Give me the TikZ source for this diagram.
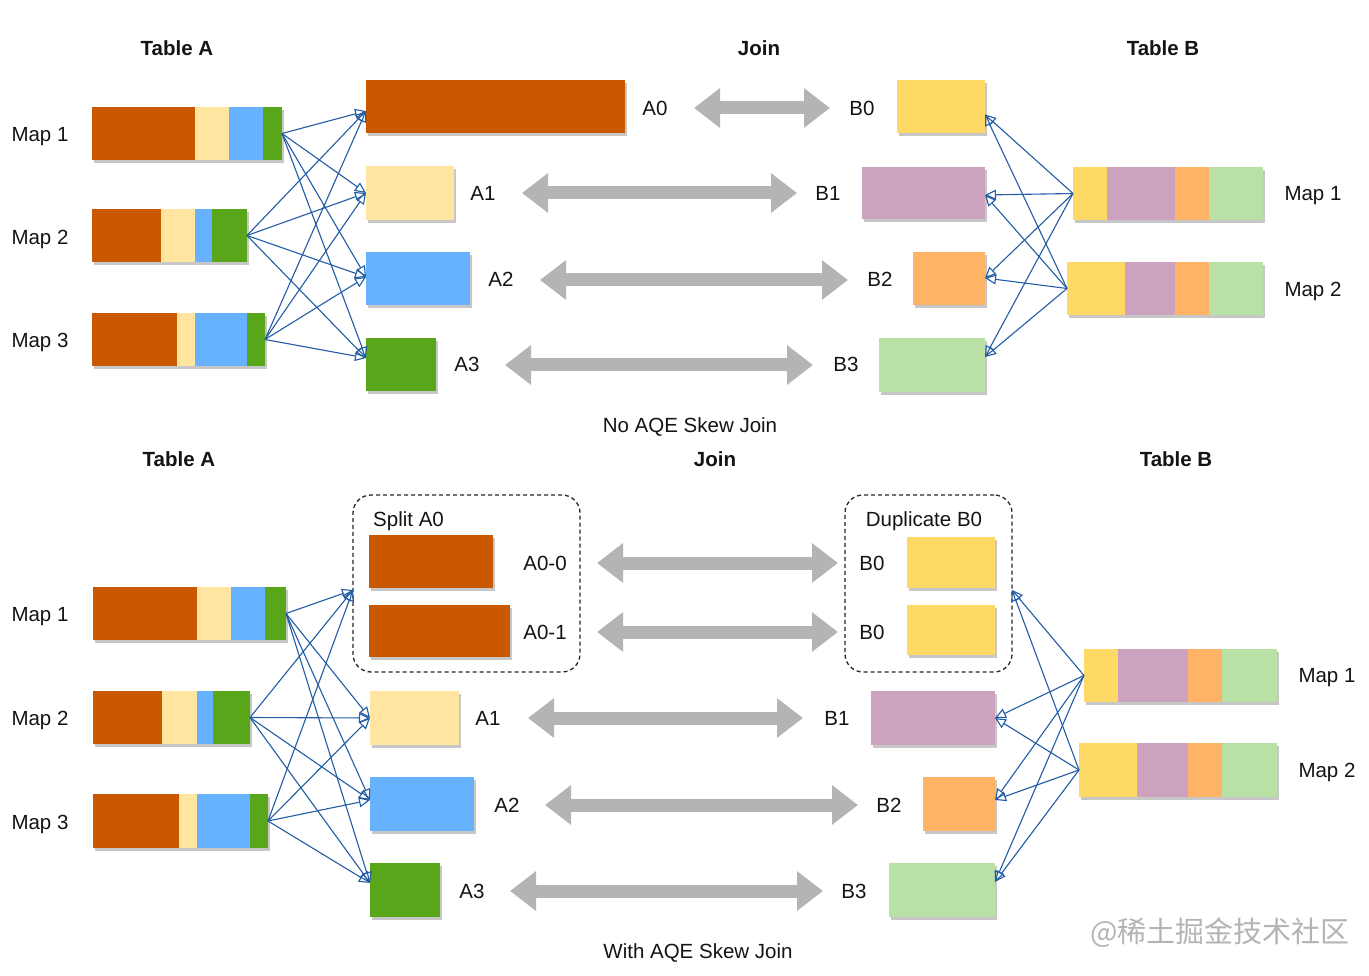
\documentclass[tikz,border=0pt]{standalone}
\usepackage{fontspec}
\setmainfont{Liberation Sans}
\newfontfamily\cjk{Noto Sans CJK SC}
\usetikzlibrary{arrows.meta,shadows,calc}
\definecolor{cOr}{RGB}{201,88,0}
\definecolor{cLy}{RGB}{255,229,160}
\definecolor{cBl}{RGB}{102,178,255}
\definecolor{cGr}{RGB}{89,166,26}
\definecolor{cYe}{RGB}{255,217,102}
\definecolor{cPu}{RGB}{205,162,190}
\definecolor{cOa}{RGB}{255,179,102}
\definecolor{cLg}{RGB}{185,224,165}
\definecolor{cJoin}{RGB}{180,180,180}
\definecolor{cLine}{RGB}{34,92,165}
\definecolor{cText}{RGB}{20,20,20}
\definecolor{cMark}{RGB}{180,180,180}
\tikzset{
  blk/.style={draw=none, inner sep=0pt, outer sep=0pt,
    drop shadow={shadow xshift=2pt, shadow yshift=-3pt, opacity=0.22, fill=black}},
  lbl/.style={font=\fontsize{20.5}{24}\selectfont, text=cText, inner sep=0pt, text height=14.7pt, text depth=0pt},
  ttl/.style={font=\fontsize{20.5}{24}\selectfont\bfseries, text=cText, inner sep=0pt, text height=14.7pt, text depth=0pt},
  captext/.style={font=\fontsize{20.5}{24}\selectfont, text=cText, inner sep=0pt, text height=14.7pt, text depth=0pt},
  joinarrow/.style={draw=cJoin, line width=13pt,
    {Triangle[length=26pt,width=38pt]}-{Triangle[length=26pt,width=38pt]}},
  flow/.style={draw=cLine, line width=1.1pt, -{Triangle[open,length=11pt,width=10pt]}},
  grp/.style={draw=black!85, line width=1.3pt, dash pattern=on 4pt off 3pt,
    rounded corners=18pt, inner sep=0pt, outer sep=0pt, fill=none}
}
\newcommand\blockat[6]{\node[blk, fill=#6, minimum width={(#4-#2)*1pt}, minimum height={(#5-#3)*1pt}] (#1) at ({(#2+#4)/2},{(#3+#5)/2}) {};}
\newcommand\grpat[5]{\node[grp, minimum width={(#4-#2)*1pt}, minimum height={(#5-#3)*1pt}] (#1) at ({(#2+#4)/2},{(#3+#5)/2}) {};}
\begin{document}
\begin{tikzpicture}[x=1pt,y=-1pt]
\useasboundingbox (0,0) rectangle (1369,976);
\fill[white] (0,0) rectangle (1369,976);

% ================= TOP =================
\node[ttl] (tA) at (177,48) {Table A};
\node[ttl] (tJ) at (759,48) {Join};
\node[ttl] (tB) at (1163,48) {Table B};

% Table A maps
\blockat{tm1}{92}{107}{282}{160}{cOr}
\fill[cLy] (195,107) rectangle (229,160);
\fill[cBl] (229,107) rectangle (263,160);
\fill[cGr] (263,107) rectangle (282,160);
\blockat{tm2}{92}{209}{247}{262}{cOr}
\fill[cLy] (161,209) rectangle (195,262);
\fill[cBl] (195,209) rectangle (212,262);
\fill[cGr] (212,209) rectangle (247,262);
\blockat{tm3}{92}{313}{265}{366}{cOr}
\fill[cLy] (177,313) rectangle (195,366);
\fill[cBl] (195,313) rectangle (247,366);
\fill[cGr] (247,313) rectangle (265,366);
\node[lbl] (tm1l) at (40,134) {Map 1};
\node[lbl] (tm2l) at (40,237) {Map 2};
\node[lbl] (tm3l) at (40,340) {Map 3};

% A partitions
\blockat{ta0}{366}{80}{625}{133}{cOr}
\blockat{ta1}{366}{166}{454}{220}{cLy}
\blockat{ta2}{366}{252}{470}{305}{cBl}
\blockat{ta3}{366}{338}{436}{391}{cGr}
\node[lbl] (ta0l) at (655,108) {A0};
\node[lbl] (ta1l) at (483,193) {A1};
\node[lbl] (ta2l) at (501,279) {A2};
\node[lbl] (ta3l) at (467,364) {A3};

% B partitions
\blockat{tb0}{897}{80}{985}{133}{cYe}
\blockat{tb1}{862}{167}{985}{219}{cPu}
\blockat{tb2}{913}{252}{985}{305}{cOa}
\blockat{tb3}{879}{338}{985}{392}{cLg}
\node[lbl] (tb0l) at (862,108) {B0};
\node[lbl] (tb1l) at (828,193) {B1};
\node[lbl] (tb2l) at (880,279) {B2};
\node[lbl] (tb3l) at (846,364) {B3};

% Table B maps
\blockat{tn1}{1073}{167}{1263}{220}{cYe}
\fill[cPu] (1107,167) rectangle (1175,220);
\fill[cOa] (1175,167) rectangle (1209,220);
\fill[cLg] (1209,167) rectangle (1263,220);
\blockat{tn2}{1067}{262}{1263}{315}{cYe}
\fill[cPu] (1125,262) rectangle (1175,315);
\fill[cOa] (1175,262) rectangle (1209,315);
\fill[cLg] (1209,262) rectangle (1263,315);
\node[lbl] (tn1l) at (1313,193) {Map 1};
\node[lbl] (tn2l) at (1313,289) {Map 2};

% join arrows
\coordinate (tj0a) at (694,108); \coordinate (tj0b) at (830,108);
\coordinate (tj1a) at (522,193); \coordinate (tj1b) at (797,193);
\coordinate (tj2a) at (540,280); \coordinate (tj2b) at (848,280);
\coordinate (tj3a) at (505,365); \coordinate (tj3b) at (813,365);
\draw[joinarrow] (tj0a) -- (tj0b);
\draw[joinarrow] (tj1a) -- (tj1b);
\draw[joinarrow] (tj2a) -- (tj2b);
\draw[joinarrow] (tj3a) -- (tj3b);

% shuffle arrows (left)
\foreach \s in {tm1,tm2,tm3}{
  \draw[flow] (\s.east) -- ([yshift=-4.5pt]ta0.west);
  \draw[flow] (\s.east) -- (ta1.west);
  \draw[flow] (\s.east) -- ([yshift=1.5pt]ta2.west);
  \draw[flow] (\s.east) -- ([yshift=6.5pt]ta3.west);
}
% shuffle arrows (right)
\foreach \s in {tn1,tn2}{
  \draw[flow] (\s.west) -- ([yshift=-8pt]tb0.east);
  \draw[flow] (\s.west) -- ([yshift=-2pt]tb1.east);
  \draw[flow] (\s.west) -- ([yshift=0.5pt]tb2.east);
  \draw[flow] (\s.west) -- ([yshift=8pt]tb3.east);
}

\node[captext] (capTop) at (690,425) {No AQE Skew Join};

% ================= BOTTOM =================
\node[ttl] (bA) at (179,459) {Table A};
\node[ttl] (bJ) at (715,459) {Join};
\node[ttl] (bB) at (1176,459) {Table B};

\blockat{bm1}{93}{587}{286}{640}{cOr}
\fill[cLy] (197,587) rectangle (231,640);
\fill[cBl] (231,587) rectangle (265,640);
\fill[cGr] (265,587) rectangle (286,640);
\blockat{bm2}{93}{691}{250}{744}{cOr}
\fill[cLy] (162,691) rectangle (197,744);
\fill[cBl] (197,691) rectangle (213,744);
\fill[cGr] (213,691) rectangle (250,744);
\blockat{bm3}{93}{794}{268}{848}{cOr}
\fill[cLy] (179,794) rectangle (197,848);
\fill[cBl] (197,794) rectangle (250,848);
\fill[cGr] (250,794) rectangle (268,848);
\node[lbl] (bm1l) at (40,614) {Map 1};
\node[lbl] (bm2l) at (40,718) {Map 2};
\node[lbl] (bm3l) at (40,822) {Map 3};

% split group
\grpat{split}{353}{495}{580}{672}
\node[lbl, anchor=west] (splitl) at (373,519) {Split A0};
\blockat{ba00}{369}{535}{493}{588}{cOr}
\blockat{ba01}{369}{605}{510}{657}{cOr}
\node[lbl] (ba00l) at (545,563) {A0-0};
\node[lbl] (ba01l) at (545,632) {A0-1};

\blockat{ba1}{370}{691}{459}{745}{cLy}
\blockat{ba2}{370}{777}{474}{831}{cBl}
\blockat{ba3}{370}{863}{440}{917}{cGr}
\node[lbl] (ba1l) at (488,718) {A1};
\node[lbl] (ba2l) at (507,805) {A2};
\node[lbl] (ba3l) at (472,891) {A3};

% duplicate group
\grpat{dup}{845}{495}{1012}{672}
\node[lbl] (dupl) at (924,519) {Duplicate B0};
\blockat{bb0a}{907}{537}{995}{588}{cYe}
\blockat{bb0b}{907}{605}{995}{655}{cYe}
\node[lbl] (bb0al) at (872,563) {B0};
\node[lbl] (bb0bl) at (872,632) {B0};

\blockat{bb1}{871}{691}{995}{745}{cPu}
\blockat{bb2}{923}{777}{995}{831}{cOa}
\blockat{bb3}{889}{863}{995}{917}{cLg}
\node[lbl] (bb1l) at (837,718) {B1};
\node[lbl] (bb2l) at (889,805) {B2};
\node[lbl] (bb3l) at (854,891) {B3};

\blockat{bn1}{1084}{649}{1277}{702}{cYe}
\fill[cPu] (1118,649) rectangle (1188,702);
\fill[cOa] (1188,649) rectangle (1222,702);
\fill[cLg] (1222,649) rectangle (1277,702);
\blockat{bn2}{1079}{743}{1277}{797}{cYe}
\fill[cPu] (1137,743) rectangle (1188,797);
\fill[cOa] (1188,743) rectangle (1222,797);
\fill[cLg] (1222,743) rectangle (1277,797);
\node[lbl] (bn1l) at (1327,675) {Map 1};
\node[lbl] (bn2l) at (1327,770) {Map 2};

% join arrows
\coordinate (bj0a) at (597,563); \coordinate (bj0b) at (838,563);
\coordinate (bj1a) at (597,632); \coordinate (bj1b) at (838,632);
\coordinate (bj2a) at (528,718); \coordinate (bj2b) at (803,718);
\coordinate (bj3a) at (545,805); \coordinate (bj3b) at (858,805);
\coordinate (bj4a) at (510,891); \coordinate (bj4b) at (823,891);
\draw[joinarrow] (bj0a) -- (bj0b);
\draw[joinarrow] (bj1a) -- (bj1b);
\draw[joinarrow] (bj2a) -- (bj2b);
\draw[joinarrow] (bj3a) -- (bj3b);
\draw[joinarrow] (bj4a) -- (bj4b);

% shuffle arrows (left)
\foreach \s in {bm1,bm2,bm3}{
  \draw[flow] (\s.east) -- ([yshift=-6.5pt]split.west);
  \draw[flow] (\s.east) -- (ba1.west);
  \draw[flow] (\s.east) -- ([yshift=4pt]ba2.west);
  \draw[flow] (\s.east) -- ([yshift=7pt]ba3.west);
}
% shuffle arrows (right)
\foreach \s in {bn1,bn2}{
  \draw[flow] (\s.west) -- ([yshift=-6.5pt]dup.east);
  \draw[flow] (\s.west) -- (bb1.east);
  \draw[flow] (\s.west) -- ([yshift=4pt]bb2.east);
  \draw[flow] (\s.west) -- ([yshift=8pt]bb3.east);
}

\node[captext] (capBot) at (698,951) {With AQE Skew Join};
\node[font=\cjk\fontsize{29}{31}\selectfont, text=cMark, inner sep=0pt] (mark) at (1220,933) {@稀土掘金技术社区};
\end{tikzpicture}
\end{document}
